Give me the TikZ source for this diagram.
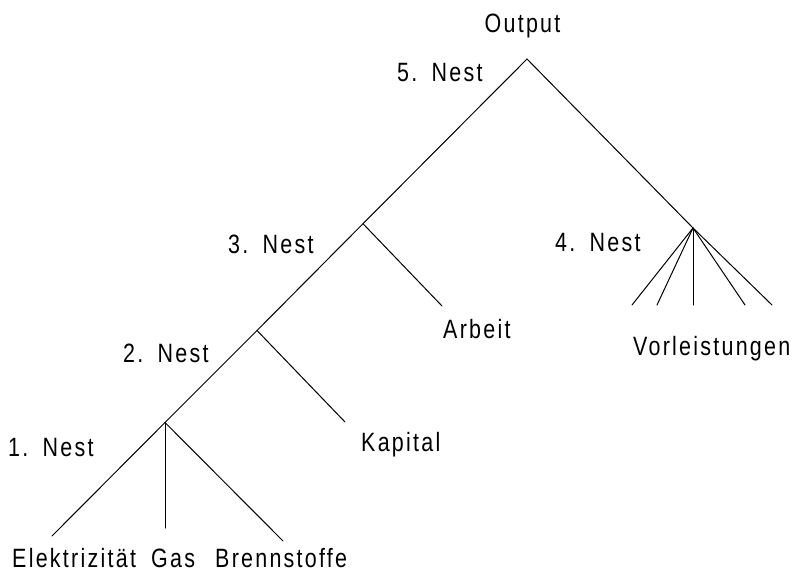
\documentclass[tikz,border=0pt]{standalone}
\usepackage{fontspec}
\setmainfont{Liberation Sans}[FakeStretch=0.81, LetterSpace=8.5, WordSpace=1.4]
\begin{document}
\begin{tikzpicture}[x=1pt, y=-1pt,
  branch/.style={line width=1pt, line cap=round},
  lbl/.style={font=\fontsize{26.5}{30}\selectfont, inner sep=0pt, anchor=base west}]
\useasboundingbox (0,0) rectangle (794,572);

% nest junctions
\coordinate (top) at (527,59);
\coordinate (n3) at (363,223.7);
\coordinate (n2) at (257,330.5);
\coordinate (n1) at (165,422.5);
\coordinate (n4) at (693,228);

% branch ends
\coordinate (eEl) at (52,536);
\coordinate (eGas) at (165,528);
\coordinate (eBr) at (283,541);
\coordinate (eKap) at (345,422);
\coordinate (eArb) at (442,306);
\coordinate (v1) at (632,305);
\coordinate (v2) at (657,305);
\coordinate (v3) at (693,305);
\coordinate (v4) at (745,305);
\coordinate (v5) at (772,305);

% tree
\draw[branch] (top) -- (n3) -- (n2) -- (n1) -- (eEl);
\draw[branch] (n1) -- (eGas);
\draw[branch] (n1) -- (eBr);
\draw[branch] (n2) -- (eKap);
\draw[branch] (n3) -- (eArb);
\draw[branch] (top) -- (n4) -- (v5);
\foreach \v in {v1,v2,v3,v4} \draw[branch] (n4) -- (\v);

% labels
\node[lbl, anchor=base] (lOut) at (522.5,33) {Output};
\node[lbl] (l5) at (397,82) {5. Nest};
\node[lbl] (l3) at (228,253) {3. Nest};
\node[lbl] (l4) at (555,251) {4. Nest};
\node[lbl] (l2) at (123,362) {2. Nest};
\node[lbl] (l1) at (8,456) {1. Nest};
\node[lbl] (lArb) at (443,338) {Arbeit};
\node[lbl] (lKap) at (361,451) {Kapital};
\node[lbl] (lVor) at (633,355) {Vorleistungen};
\node[lbl] (lEl) at (12,567) {Elektrizität};
\node[lbl] (lGas) at (151,567) {Gas};
\node[lbl] (lBr) at (215,567) {Brennstoffe};
\end{tikzpicture}
\end{document}
